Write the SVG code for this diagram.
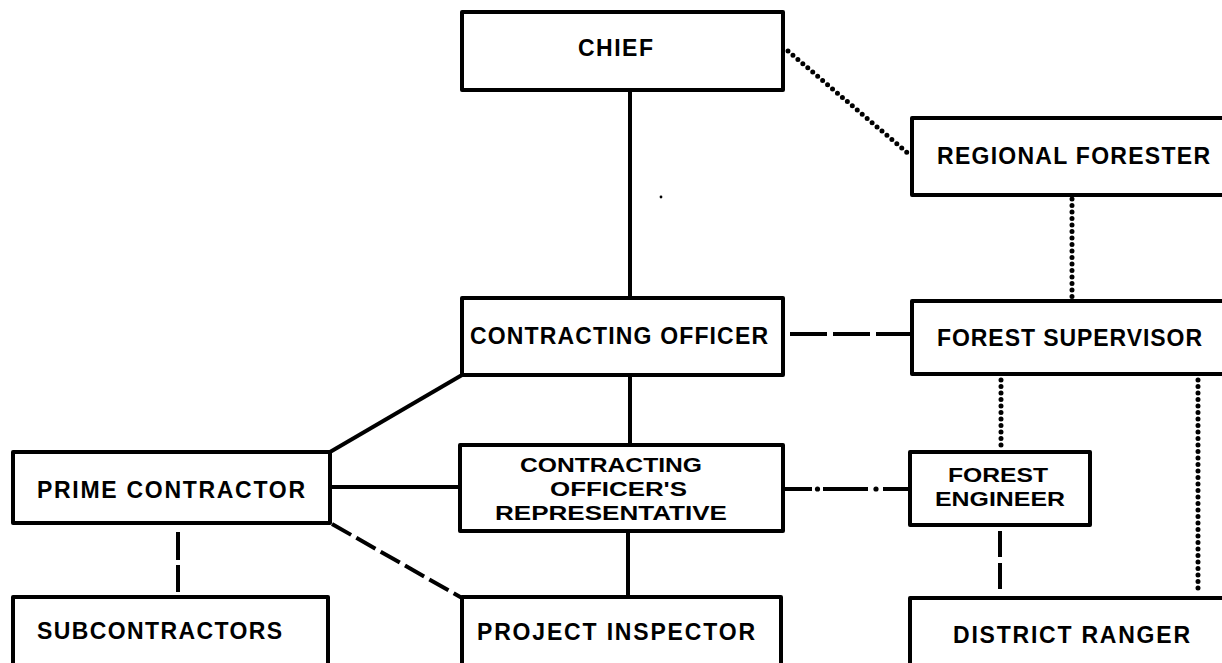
<svg xmlns="http://www.w3.org/2000/svg" width="1222" height="663" viewBox="0 0 1222 663">
  <style>
    .box { fill: #ffffff; stroke: #000000; stroke-width: 4; stroke-linejoin: round; }
    .lbl { font-family: "Liberation Sans", Arial, sans-serif; font-weight: bold; font-size: 23px; fill: #000000; }
    .small { font-size: 20px; }
    .solid { fill: none; stroke: #000000; stroke-width: 4; }
    .dotted { fill: none; stroke: #000000; stroke-width: 5; stroke-linecap: round; stroke-dasharray: 0 6.5; }
    .dashed { fill: none; stroke: #000000; stroke-width: 4; }
  </style>
  <rect x="0" y="0" width="1222" height="663" fill="#ffffff"/>

  <!-- connectors -->
  <g id="connectors">
    <!-- line authority (solid) -->
    <path class="solid" d="M630 90 V298"/>
    <path class="solid" d="M630 375 V445"/>
    <path class="solid" d="M628 531 V597"/>
    <path class="solid" d="M462 375 L330 452"/>
    <path class="solid" d="M330 487 H460"/>
    <!-- dotted links -->
    <path class="dotted" d="M788 51 L910 155"/>
    <path class="dotted" d="M1072 199 V297"/>
    <path class="dotted" d="M1001 380 V448"/>
    <path class="dotted" d="M1198 380 V594"/>
    <!-- dashed links -->
    <path class="dashed" d="M790 334 H910" stroke-dasharray="37 6"/>
    <path class="dashed" d="M178 532 V592" stroke-dasharray="28 5"/>
    <path class="dashed" d="M1000 531 V593" stroke-dasharray="26 6"/>
    <path class="dashed" d="M332 524 L462 598" stroke-dasharray="22 6"/>
    <!-- dash-dot link -->
    <g id="dash-dot">
      <path class="solid" d="M783 489 H812 M823 489 H868 M883 489 H910"/>
      <circle cx="817.5" cy="489" r="2.6"/>
      <circle cx="876" cy="489" r="2.6"/>
    </g>
    <circle cx="661" cy="197" r="1.4"/>
  </g>

  <g id="chief">
    <rect class="box" x="462" y="12" width="321" height="78"/>
    <text class="lbl" x="578" y="56" textLength="75" lengthAdjust="spacing">CHIEF</text>
  </g>

  <g id="regional-forester">
    <rect class="box" x="912" y="118" width="322" height="77"/>
    <text class="lbl" x="937" y="164" textLength="273" lengthAdjust="spacing">REGIONAL FORESTER</text>
  </g>

  <g id="contracting-officer">
    <rect class="box" x="462" y="298" width="321" height="77"/>
    <text class="lbl" x="470" y="344" textLength="298" lengthAdjust="spacing">CONTRACTING OFFICER</text>
  </g>

  <g id="forest-supervisor">
    <rect class="box" x="912" y="301" width="322" height="73"/>
    <text class="lbl" x="937" y="346" textLength="265" lengthAdjust="spacing">FOREST SUPERVISOR</text>
  </g>

  <g id="prime-contractor">
    <rect class="box" x="13" y="452" width="317" height="71"/>
    <text class="lbl" x="37" y="498" textLength="268" lengthAdjust="spacing">PRIME CONTRACTOR</text>
  </g>

  <g id="cor">
    <rect class="box" x="460" y="445" width="323" height="86"/>
    <text class="lbl small" x="520" y="472" textLength="182" lengthAdjust="spacingAndGlyphs">CONTRACTING</text>
    <text class="lbl small" x="550" y="496" textLength="137" lengthAdjust="spacingAndGlyphs">OFFICER'S</text>
    <text class="lbl small" x="495" y="520" textLength="232" lengthAdjust="spacingAndGlyphs">REPRESENTATIVE</text>
  </g>

  <g id="forest-engineer">
    <rect class="box" x="910" y="452" width="180" height="73"/>
    <text class="lbl small" x="948" y="482" textLength="100" lengthAdjust="spacingAndGlyphs">FOREST</text>
    <text class="lbl small" x="935" y="506" textLength="130" lengthAdjust="spacingAndGlyphs">ENGINEER</text>
  </g>

  <g id="subcontractors">
    <rect class="box" x="13" y="597" width="315" height="70"/>
    <text class="lbl" x="37" y="639" textLength="245" lengthAdjust="spacing">SUBCONTRACTORS</text>
  </g>

  <g id="project-inspector">
    <rect class="box" x="462" y="597" width="319" height="70"/>
    <text class="lbl" x="477" y="640" textLength="278" lengthAdjust="spacing">PROJECT INSPECTOR</text>
  </g>

  <g id="district-ranger">
    <rect class="box" x="910" y="598" width="324" height="69"/>
    <text class="lbl" x="953" y="643" textLength="237" lengthAdjust="spacing">DISTRICT RANGER</text>
  </g>
</svg>
